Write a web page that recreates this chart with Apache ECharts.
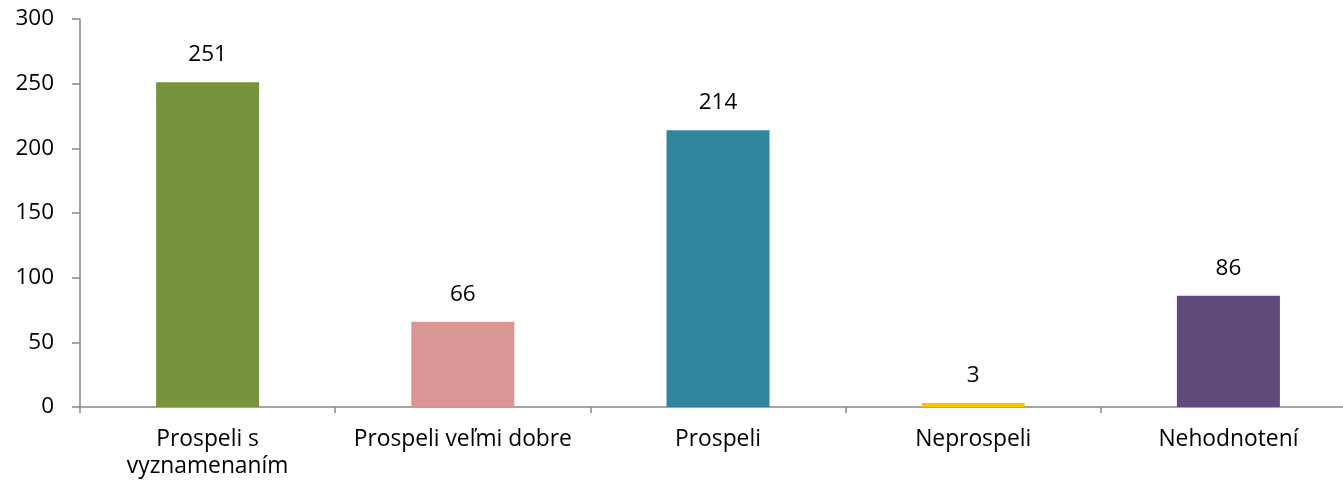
<!DOCTYPE html>
<html><head><meta charset="utf-8">
<script src="https://cdn.jsdelivr.net/npm/echarts@6/dist/echarts.min.js"></script>
<style>html,body{margin:0;padding:0;background:#fff}#c{width:1343px;height:489px}</style>
</head><body><div id="c"></div>
<script>
const categories = ['Prospeli s\nvyznamenaním', 'Prospeli veľmi dobre', 'Prospeli', 'Neprospeli', 'Nehodnotení'];
const values = [251, 66, 214, 3, 86];
const colors = ['#77933C', '#D99694', '#31859C', '#FFC000', '#604A7B'];
const yTicks = [0, 50, 100, 150, 200, 250, 300];

const chart = echarts.init(document.getElementById('c'));
const font = '"Open Sans", sans-serif';
chart.setOption({
  animation: false,
  grid: { left: 80, top: 19, width: 1276, height: 388, containLabel: false, outerBoundsMode: 'none' },
  xAxis: {
    type: 'category', data: categories,
    axisLine: { lineStyle: { color: '#868686', width: 1.5 } },
    axisTick: { show: true, length: 6, lineStyle: { color: '#868686', width: 1.5 } },
    axisLabel: { color: '#000', fontSize: 22.8, fontFamily: font, margin: 19, lineHeight: 27, interval: 0 }
  },
  yAxis: {
    type: 'value', min: yTicks[0], max: yTicks[yTicks.length - 1], interval: 50,
    splitLine: { show: false },
    axisLine: { show: true, lineStyle: { color: '#868686', width: 1.5 } },
    axisTick: { show: true, length: 8, lineStyle: { color: '#868686', width: 1.5 } },
    axisLabel: { color: '#000', fontSize: 22.5, fontFamily: font, margin: 26 }
  },
  series: [{
    type: 'bar', barWidth: 103,
    data: values.map((v, i) => ({ value: v, itemStyle: { color: colors[i] } })),
    label: { show: true, position: 'top', distance: 16, color: '#000', fontSize: 22.5, fontFamily: font }
  }]
});
</script></body></html>
